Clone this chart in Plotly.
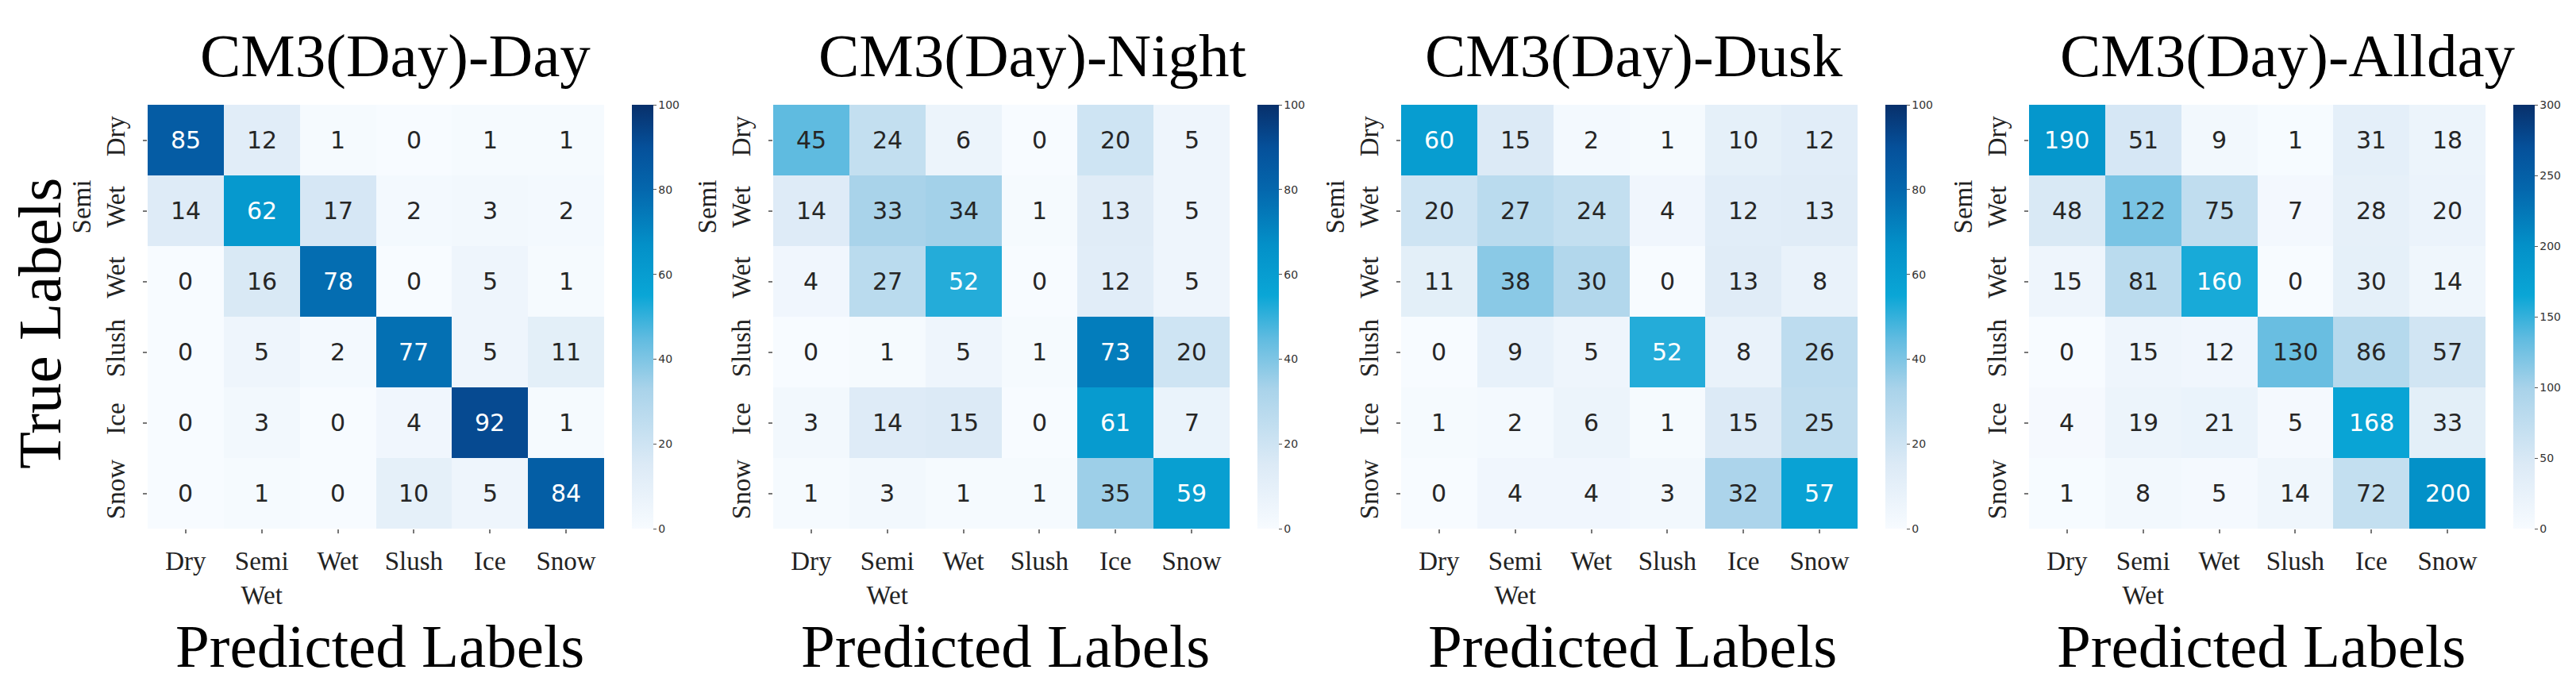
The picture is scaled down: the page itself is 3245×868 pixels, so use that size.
import plotly.graph_objs as go

labels = ['Dry', 'Semi Wet', 'Wet', 'Slush', 'Ice', 'Snow']
tick_text = ['Dry', 'Semi<br>Wet', 'Wet', 'Slush', 'Ice', 'Snow']

titles = ['CM3(Day)-Day', 'CM3(Day)-Night', 'CM3(Day)-Dusk', 'CM3(Day)-Allday']

cm_day = [
    [85, 12, 1, 0, 1, 1],
    [14, 62, 17, 2, 3, 2],
    [0, 16, 78, 0, 5, 1],
    [0, 5, 2, 77, 5, 11],
    [0, 3, 0, 4, 92, 1],
    [0, 1, 0, 10, 5, 84],
]
cm_night = [
    [45, 24, 6, 0, 20, 5],
    [14, 33, 34, 1, 13, 5],
    [4, 27, 52, 0, 12, 5],
    [0, 1, 5, 1, 73, 20],
    [3, 14, 15, 0, 61, 7],
    [1, 3, 1, 1, 35, 59],
]
cm_dusk = [
    [60, 15, 2, 1, 10, 12],
    [20, 27, 24, 4, 12, 13],
    [11, 38, 30, 0, 13, 8],
    [0, 9, 5, 52, 8, 26],
    [1, 2, 6, 1, 15, 25],
    [0, 4, 4, 3, 32, 57],
]
cm_allday = [
    [190, 51, 9, 1, 31, 18],
    [48, 122, 75, 7, 28, 20],
    [15, 81, 160, 0, 30, 14],
    [0, 15, 12, 130, 86, 57],
    [4, 19, 21, 5, 168, 33],
    [1, 8, 5, 14, 72, 200],
]
matrices = [cm_day, cm_night, cm_dusk, cm_allday]
zmax_list = [100, 100, 100, 300]
cbar_ticks = [[0, 20, 40, 60, 80, 100]] * 3 + [[0, 50, 100, 150, 200, 250, 300]]

# layout in pixels (figure is 3245 x 868)
W, H = 3245, 868
hm_left = [178, 966, 1757, 2548]
hm_w = 575
hm_top, hm_bot = 124, 658
title_cx = [490, 1292, 2050, 2874]
xlab_cx = [470, 1258, 2048, 2840]

blues = [
    [0.0, '#f7fbff'], [0.15, '#dceaf6'], [0.33, '#a9d3ea'], [0.45, '#5fbbe0'],
    [0.55, '#0aa6d6'], [0.67, '#0390c8'], [0.8, '#0467ad'], [0.9, '#05509a'],
    [1.0, '#08306b'],
]

serif = 'Liberation Serif'
sans = 'DejaVu Sans'

fig = go.Figure()
annotations = []
layout_axes = {}

for i, cm in enumerate(matrices):
    n = '' if i == 0 else str(i + 1)
    xa, ya = 'x' + n, 'y' + n
    x0 = hm_left[i] / W
    x1 = (hm_left[i] + hm_w) / W
    y0 = (H - hm_bot) / H
    y1 = (H - hm_top) / H

    fig.add_trace(
        go.Heatmap(
            z=cm,
            x=labels,
            y=labels,
            xaxis=xa,
            yaxis=ya,
            zmin=0,
            zmax=zmax_list[i],
            colorscale=blues,
            hoverinfo='skip',
            colorbar=dict(
                x=(hm_left[i] + 610) / W,
                xanchor='left',
                y=(y0 + y1) / 2,
                yanchor='middle',
                len=hm_bot - hm_top,
                lenmode='pixels',
                thickness=27,
                thicknessmode='pixels',
                outlinewidth=0,
                xpad=0,
                ypad=0,
                ticks='outside',
                ticklen=4,
                tickcolor='#555555',
                tickvals=cbar_ticks[i],
                tickfont=dict(family=sans, size=14, color='#333333'),
            ),
        )
    )

    layout_axes['xaxis' + n] = dict(
        domain=[x0, x1],
        anchor=ya,
        tickvals=labels,
        ticktext=tick_text,
        ticks='outside',
        ticklen=5,
        tickwidth=1.5,
        tickcolor='#777777',
        ticklabelstandoff=6,
        tickfont=dict(family=serif, size=33, color='#222222'),
        showgrid=False,
        zeroline=False,
        showline=False,
    )
    layout_axes['yaxis' + n] = dict(
        domain=[y0, y1],
        anchor=xa,
        autorange='reversed',
        tickvals=labels,
        ticktext=tick_text,
        tickangle=-90,
        ticks='outside',
        ticklen=5,
        tickwidth=1.5,
        tickcolor='#777777',
        ticklabelstandoff=10,
        tickfont=dict(family=serif, size=33, color='#222222'),
        showgrid=False,
        zeroline=False,
        showline=False,
    )

    # cell values
    for r, row in enumerate(cm):
        for c, v in enumerate(row):
            annotations.append(dict(
                x=labels[c], y=labels[r], xref=xa, yref=ya,
                text=str(v), showarrow=False,
                font=dict(family=sans, size=30,
                          color='white' if v / zmax_list[i] > 0.48 else '#262626'),
            ))

    annotations.append(dict(
        x=title_cx[i] / W, y=(H - 62) / H, xref='paper', yref='paper',
        text=titles[i], showarrow=False, xanchor='center', yanchor='middle',
        font=dict(family=serif, size=77, color='black'),
    ))
    annotations.append(dict(
        x=xlab_cx[i] / W, y=(H - 806) / H, xref='paper', yref='paper',
        text='Predicted Labels', showarrow=False, xanchor='center', yanchor='middle',
        font=dict(family=serif, size=77, color='black'),
    ))

annotations.append(dict(
    x=42 / W, y=(H - 400) / H, xref='paper', yref='paper',
    text='True Labels', showarrow=False, textangle=-90,
    xanchor='center', yanchor='middle',
    font=dict(family=serif, size=77, color='black'),
))

fig.update_layout(
    width=W,
    height=H,
    autosize=False,
    margin=dict(l=0, r=0, t=0, b=0),
    plot_bgcolor='white',
    paper_bgcolor='white',
    showlegend=False,
    annotations=annotations,
    **layout_axes
)

fig.write_html('out.html')
